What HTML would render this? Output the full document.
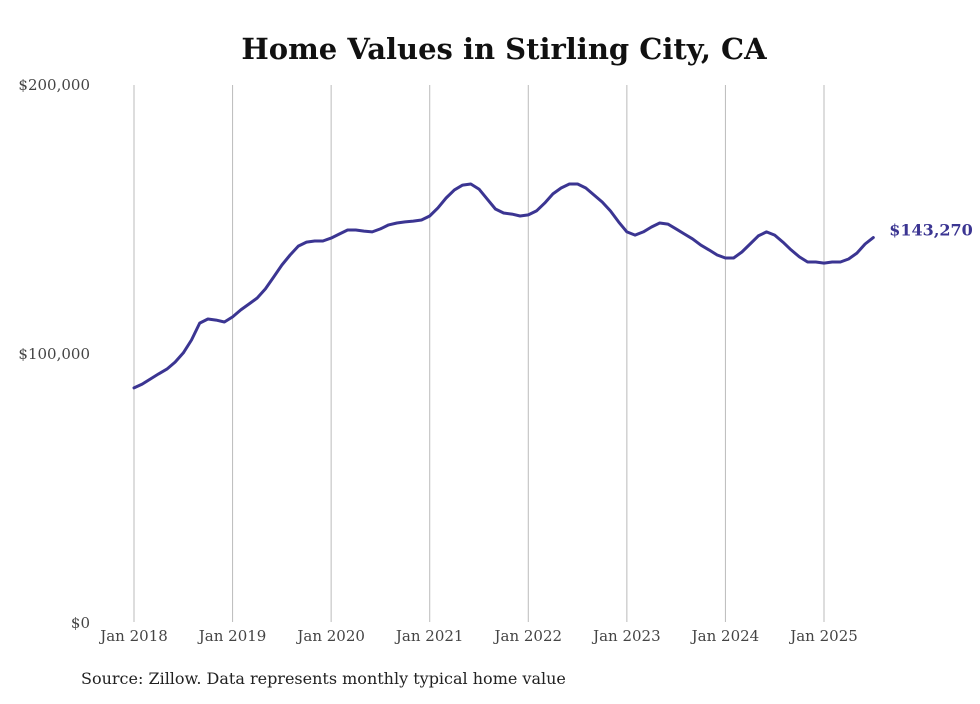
<!DOCTYPE html>
<html><head><meta charset="utf-8">
<style>
html,body{margin:0;padding:0;background:#fff;}
body{width:980px;height:699px;overflow:hidden;}
text{font-family:"DejaVu Serif","Liberation Serif",serif;}
</style></head>
<body>
<svg id="chart" width="980" height="699" xmlns="http://www.w3.org/2000/svg">
<text x="504" y="59" text-anchor="middle" font-size="29" font-weight="bold" fill="#111">Home Values in Stirling City, CA</text>
<g id="grid"></g>
<g id="yaxis"></g>
<g id="xaxis"></g>
<path id="line" fill="none" stroke="#3b3592" stroke-width="3" stroke-linejoin="round" stroke-linecap="round"/>
<text id="endlabel" font-size="16" font-weight="bold" fill="#3b3592"></text>
<text x="81" y="684" font-size="16" fill="#222">Source: Zillow. Data represents monthly typical home value</text>
</svg>
<script>
const yearLabels = ["Jan 2018","Jan 2019","Jan 2020","Jan 2021","Jan 2022","Jan 2023","Jan 2024","Jan 2025"];
const yTicks = [0, 100000, 200000];
const yTickLabels = ["$0","$100,000","$200,000"];
const endLabel = "$143,270";
// monthly values (thousands), Jan 2018 .. Jul 2025
const values = [87.4,88.8,90.7,92.6,94.4,97.0,100.4,105.2,111.5,113.0,112.6,111.9,
113.8,116.4,118.6,120.8,124.2,128.6,133.1,136.8,140.1,141.6,142.0,142.0,
143.1,144.6,146.1,146.1,145.7,145.4,146.5,148.0,148.7,149.1,149.4,149.8,
151.3,154.3,158.0,161.0,162.8,163.2,161.3,157.6,153.9,152.4,152.0,151.3,
151.7,153.2,156.1,159.5,161.7,163.2,163.2,161.7,159.1,156.5,153.2,149.1,
145.4,144.2,145.4,147.2,148.7,148.3,146.5,144.6,142.8,140.5,138.7,136.8,
135.7,135.7,137.9,140.9,143.9,145.4,144.2,141.6,138.7,136.1,134.2,134.2,
133.8,134.2,134.2,135.3,137.5,140.9,143.27];

const NS="http://www.w3.org/2000/svg";
const x0=134, pxPerMonth=(824-134)/84;
const xScale=m=>x0+m*pxPerMonth;
const yScale=v=>623-v/200000*538;

const grid=document.getElementById('grid');
const xa=document.getElementById('xaxis');
yearLabels.forEach((lab,i)=>{
  const x=xScale(i*12);
  const l=document.createElementNS(NS,'line');
  
  
  l.setAttribute('x1',x);l.setAttribute('x2',x);l.setAttribute('y1',85);l.setAttribute('y2',622);
  l.setAttribute('stroke','#bbb');l.setAttribute('stroke-width','1');
  grid.appendChild(l);
  const t=document.createElementNS(NS,'text');
  
  
  t.setAttribute('x',x);t.setAttribute('y',641);t.setAttribute('text-anchor','middle');
  t.setAttribute('font-size','15');t.setAttribute('fill','#444');
  t.textContent=lab;xa.appendChild(t);
});
const ya=document.getElementById('yaxis');
yTicks.forEach((v,i)=>{
  const t=document.createElementNS(NS,'text');
  
  
  t.setAttribute('x',90);t.setAttribute('y',yScale(v)+5);t.setAttribute('text-anchor','end');
  t.setAttribute('font-size','15');t.setAttribute('fill','#444');
  t.textContent=yTickLabels[i];ya.appendChild(t);
});
let d='';
values.forEach((v,i)=>{d+=(i?'L':'M')+xScale(i).toFixed(1)+','+yScale(v*1000).toFixed(1);});
document.getElementById('line').setAttribute('d',d);
const last=values.length-1;
const el=document.getElementById('endlabel');
el.setAttribute('x',xScale(last)+16);el.setAttribute('y',yScale(values[last]*1000)-2);
el.textContent=endLabel;
</script>
</body></html>
